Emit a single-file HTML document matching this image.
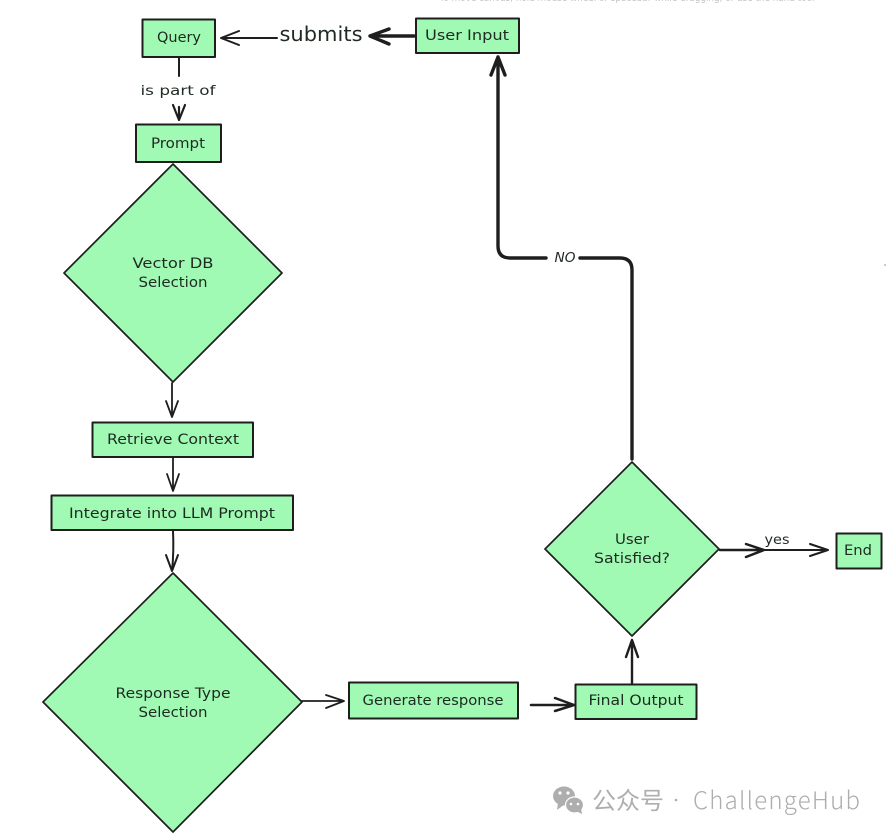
<!DOCTYPE html>
<html>
<head>
<meta charset="utf-8">
<style>
html,body{margin:0;padding:0;background:#fff;width:889px;height:836px;overflow:hidden}
svg{display:block}
text{font-family:"DejaVu Sans","Liberation Sans",sans-serif;fill:#1e2a22;font-size:13px;text-anchor:middle}
.b{fill:#a0fab4;stroke:#1e1e1e;stroke-width:2;stroke-linejoin:round}
.l{fill:none;stroke:#1e1e1e;stroke-linecap:round;stroke-linejoin:round}
</style>
</head>
<body>
<svg width="889" height="836" viewBox="0 0 889 836" xmlns="http://www.w3.org/2000/svg">
<rect width="889" height="836" fill="#fff"/>
<text x="627" y="1" textLength="375" lengthAdjust="spacingAndGlyphs" style="font-size:10px;fill:#c4c4c4">To move canvas, hold mouse wheel or spacebar while dragging, or use the hand tool</text>
<circle cx="885" cy="265" r="1" fill="#bbb"/>

<!-- boxes -->
<rect class="b" x="142.500" y="19.500" width="72.500" height="37.500"/>
<rect class="b" x="416" y="18.500" width="103" height="34.500"/>
<rect class="b" x="136" y="124.500" width="85" height="37.500"/>
<rect class="b" x="92.500" y="422.500" width="160.500" height="34.500"/>
<rect class="b" x="51.500" y="495.500" width="241.500" height="34.500"/>
<rect class="b" x="349" y="682.500" width="169" height="36"/>
<rect class="b" x="575.500" y="684.500" width="121" height="34.500"/>
<rect class="b" x="836.500" y="533.500" width="45" height="35"/>

<!-- diamonds -->
<polygon class="b" points="173,164 282,273 173,382 64,273" style="stroke-width:1.700"/>
<polygon class="b" points="173,573 302,702 173,832 43,702" style="stroke-width:1.700"/>
<polygon class="b" points="632,462 719,549 632,636 545,549" style="stroke-width:1.700"/>

<!-- connectors -->
<path class="l" stroke-width="2" d="M277,38 L221,38 M239,31 L221,38 L239,45"/>
<path class="l" stroke-width="3.400" d="M414,36 L370,36 M389,29 L370,36 L389,44"/>
<path class="l" stroke-width="2" d="M179,58 L179,76"/>
<path class="l" stroke-width="2.200" d="M179,107 L179,120 M173,105 L179,120 L185,105"/>
<path class="l" stroke-width="1.800" d="M172,383 L172,417 M166,401 L172,417 L178,401"/>
<path class="l" stroke-width="1.800" d="M173,458 L173,491 M167,474 L173,491 L179,474"/>
<path class="l" stroke-width="2" d="M173,531 Q174,552 172,571 M166,555 L172,571 L178,555"/>
<path class="l" stroke-width="1.800" d="M302,701 L344,701 M326,695 L344,701 L326,708"/>
<path class="l" stroke-width="2.500" d="M531,705 L574,705 M555,698 L574,705 L555,711"/>
<path class="l" stroke-width="2.400" d="M632,683 L632,640 M626,657 L632,640 L638,657"/>
<path class="l" stroke-width="2.500" d="M720,550 L764,550 M746,544 L764,550 L746,557"/>
<path class="l" stroke-width="2" d="M764,550 L828,550 M810,544 L828,550 L810,556"/>
<path class="l" stroke-width="3.400" d="M632,459 L632,270 Q632,258 620,258 L580,258"/>
<path class="l" stroke-width="3.400" d="M546,258 L510,258 Q498,258 498,246 L498,57 M491,75 L498,57 L505,75"/>

<!-- labels -->
<text x="179" y="42" textLength="44" lengthAdjust="spacingAndGlyphs" style="font-size:14px">Query</text>
<text x="467" y="40" textLength="84" lengthAdjust="spacingAndGlyphs" style="font-size:14px">User Input</text>
<text x="178" y="148" textLength="54" lengthAdjust="spacingAndGlyphs" style="font-size:14px">Prompt</text>
<text x="321" y="41" textLength="83" lengthAdjust="spacingAndGlyphs" style="font-size:20px">submits</text>
<text x="178" y="95" textLength="75" lengthAdjust="spacingAndGlyphs" style="font-size:13px">is part of</text>
<text x="173" y="268" textLength="81" lengthAdjust="spacingAndGlyphs" style="font-size:14px">Vector DB</text>
<text x="173" y="287" textLength="69" lengthAdjust="spacingAndGlyphs" style="font-size:14px">Selection</text>
<text x="173" y="444" textLength="132" lengthAdjust="spacingAndGlyphs" style="font-size:14px">Retrieve Context</text>
<text x="172" y="518" textLength="206" lengthAdjust="spacingAndGlyphs" style="font-size:14px">Integrate into LLM Prompt</text>
<text x="173" y="698" textLength="115" lengthAdjust="spacingAndGlyphs" style="font-size:14px">Response Type</text>
<text x="173" y="717" textLength="69" lengthAdjust="spacingAndGlyphs" style="font-size:14px">Selection</text>
<text x="433" y="705" textLength="141" lengthAdjust="spacingAndGlyphs" style="font-size:14px">Generate response</text>
<text x="636" y="705" textLength="95" lengthAdjust="spacingAndGlyphs" style="font-size:14px">Final Output</text>
<text x="632" y="544" textLength="34" lengthAdjust="spacingAndGlyphs" style="font-size:14px">User</text>
<text x="632" y="563" textLength="76" lengthAdjust="spacingAndGlyphs" style="font-size:14px">Satisfied?</text>
<text x="858" y="555" textLength="28" lengthAdjust="spacingAndGlyphs" style="font-size:14px">End</text>
<text x="777" y="544" textLength="25" lengthAdjust="spacingAndGlyphs" style="font-size:13px">yes</text>
<text x="565" y="262" textLength="21" lengthAdjust="spacingAndGlyphs" style="font-size:13px;font-style:italic">NO</text>

<!-- watermark -->
<g fill="#aeaeae">
<ellipse cx="564" cy="796" rx="11" ry="9.500"/>
<path d="M558,803 L557,810 L565,804 Z"/>
<ellipse cx="574.500" cy="805" rx="9" ry="8" stroke="#fff" stroke-width="1.200"/>
<path d="M576,811 L582,814 L581,808 Z"/>
</g>
<g fill="#fff"><circle cx="560" cy="793" r="1.600"/><circle cx="568" cy="793" r="1.600"/><circle cx="571" cy="804" r="1.300"/><circle cx="578" cy="804" r="1.300"/></g>
<text x="628" y="809" style="font-family:'Noto Sans CJK SC','Liberation Sans',sans-serif;font-size:24px;fill:#aeaeae">公众号</text>
<circle cx="676" cy="800" r="1.300" fill="#aeaeae"/>
<text x="776.500" y="809" textLength="167" lengthAdjust="spacing" style="font-family:'Noto Sans CJK SC','Liberation Sans',sans-serif;font-size:24px;font-weight:300;fill:#aeaeae">ChallengeHub</text>
</svg>
</body>
</html>
